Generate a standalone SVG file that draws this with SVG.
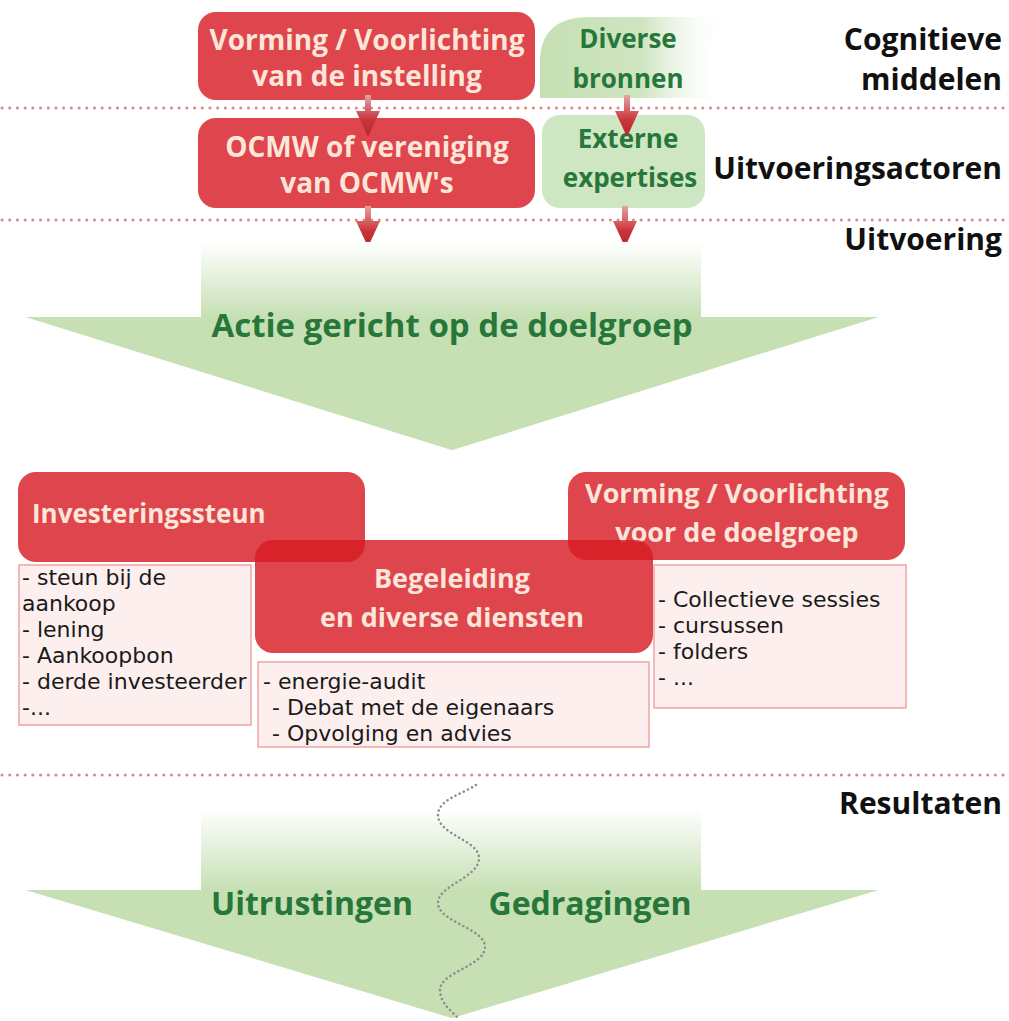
<svg xmlns="http://www.w3.org/2000/svg" width="1009" height="1021" viewBox="0 0 1009 1021">
<defs>
<style>
.red{fill:#d81c24;fill-opacity:0.82}
.redtxt{font-family:"Open Sans","Liberation Sans",sans-serif;font-weight:bold;fill:#fce6da;text-anchor:middle}
.grntxt{font-family:"Open Sans","Liberation Sans",sans-serif;font-weight:bold;fill:#27773a;text-anchor:middle}
.lbl{font-family:"Open Sans","Liberation Sans",sans-serif;font-weight:bold;font-size:30px;fill:#111;text-anchor:end}
.list{fill:#fcefee;stroke:#f0a3a5;stroke-width:1.5}
.ltxt{font-family:"DejaVu Sans","Liberation Sans",sans-serif;font-size:22px;fill:#1a1a1a}
.sep{stroke:#d9888b;stroke-width:3;stroke-dasharray:0.1 7.6;stroke-linecap:round;fill:none}
.arr{fill:url(#arrG)}
</style>
<linearGradient id="arrG" x1="0" y1="0" x2="0" y2="1">
<stop offset="0" stop-color="#e7a3a5"/>
<stop offset="0.6" stop-color="#c9353a"/>
<stop offset="1" stop-color="#c0232a"/>
</linearGradient>
<linearGradient id="shaft1" gradientUnits="userSpaceOnUse" x1="0" y1="242" x2="0" y2="317">
<stop offset="0" stop-color="#ffffff"/>
<stop offset="1" stop-color="#c6e0b4"/>
</linearGradient>
<linearGradient id="shaft2" gradientUnits="userSpaceOnUse" x1="0" y1="808" x2="0" y2="890">
<stop offset="0" stop-color="#ffffff"/>
<stop offset="1" stop-color="#c6e0b4"/>
</linearGradient>
<linearGradient id="srcG" x1="0" y1="0" x2="1" y2="0">
<stop offset="0" stop-color="#c6e0b4"/>
<stop offset="0.55" stop-color="#cfe5c1"/>
<stop offset="1" stop-color="#ffffff" stop-opacity="0"/>
</linearGradient>
</defs>
<rect width="1009" height="1021" fill="#ffffff"/>

<g id="separators">
<line class="sep" x1="2" y1="108" x2="1007" y2="108"/>
<line class="sep" x1="2" y1="220" x2="1007" y2="220"/>
<line class="sep" x1="2" y1="775" x2="1007" y2="775"/>
</g>

<g id="level-labels">
<text class="lbl" x="1002" y="50">Cognitieve</text>
<text class="lbl" x="1002" y="90">middelen</text>
<text class="lbl" x="1002" y="179">Uitvoeringsactoren</text>
<text class="lbl" x="1002" y="250">Uitvoering</text>
<text class="lbl" x="1002" y="814">Resultaten</text>
</g>

<g id="vorming-instelling">
<rect class="red" x="198" y="12" width="337" height="88" rx="18"/>
<text class="redtxt" font-size="28" x="367" y="50">Vorming / Voorlichting</text>
<text class="redtxt" font-size="28" x="367" y="86">van de instelling</text>
</g>

<g id="diverse-bronnen">
<path d="M540,98 L540,62 Q540,17 590,17 L728,17 Q700,50 712,98 Z" fill="url(#srcG)"/>
<text class="grntxt" font-size="26" x="628" y="48">Diverse</text>
<text class="grntxt" font-size="26" x="628" y="88">bronnen</text>
</g>

<g id="ocmw">
<rect class="red" x="198" y="118" width="337" height="90" rx="18"/>
<text class="redtxt" font-size="28" x="367" y="157">OCMW of vereniging</text>
<text class="redtxt" font-size="28" x="367" y="193">van OCMW's</text>
</g>

<g id="externe-expertises">
<rect x="542" y="115" width="163" height="93" rx="18" fill="#cfe6c2"/>
<text class="grntxt" font-size="26" x="628" y="148">Externe</text>
<text class="grntxt" font-size="26" x="630" y="187">expertises</text>
</g>

<g id="connectors">
<path class="arr" d="M365,95 L371,95 L371,111 L380,111 L368,137 L356,111 L365,111 Z"/>
<path class="arr" d="M624,95 L630,95 L630,111 L639,111 L627,137 L615,111 L624,111 Z"/>
<path class="arr" d="M365,206 L371,206 L371,221 L380,221 L368,247 L356,221 L365,221 Z"/>
<path class="arr" d="M622,206 L628,206 L628,221 L637,221 L625,247 L613,221 L622,221 Z"/>
</g>

<g id="actie">
<path d="M201,242 L701,242 L701,317 L878,317 L452,450 L26,317 L201,317 Z" fill="url(#shaft1)"/>
<path d="M26,317 L878,317 L452,450 Z" fill="#c6e0b4"/>
<text class="grntxt" font-size="33" x="452" y="337">Actie gericht op de doelgroep</text>
</g>

<g id="investeringssteun">
<rect class="red" x="18" y="472" width="347" height="90" rx="18"/>
<text class="redtxt" font-size="26" x="32" y="523" style="text-anchor:start">Investeringssteun</text>
<rect class="list" x="19" y="565" width="232" height="160"/>
<text class="ltxt" x="22" y="585">- steun bij de</text>
<text class="ltxt" x="22" y="611">aankoop</text>
<text class="ltxt" x="22" y="637">- lening</text>
<text class="ltxt" x="22" y="663">- Aankoopbon</text>
<text class="ltxt" x="22" y="689">- derde investeerder</text>
<text class="ltxt" x="22" y="715">-...</text>
</g>

<g id="vorming-doelgroep">
<rect class="red" x="568" y="472" width="337" height="88" rx="18"/>
<text class="redtxt" font-size="27" x="737" y="503">Vorming / Voorlichting</text>
<text class="redtxt" font-size="27" x="737" y="542">voor de doelgroep</text>
<rect class="list" x="654" y="565" width="252" height="143"/>
<text class="ltxt" x="658" y="607">- Collectieve sessies</text>
<text class="ltxt" x="658" y="633">- cursussen</text>
<text class="ltxt" x="658" y="659">- folders</text>
<text class="ltxt" x="658" y="685">- ...</text>
</g>

<g id="begeleiding">
<rect class="red" x="255" y="540" width="398" height="113" rx="18"/>
<text class="redtxt" font-size="27" x="452" y="588">Begeleiding</text>
<text class="redtxt" font-size="27" x="452" y="627">en diverse diensten</text>
<rect class="list" x="258" y="662" width="391" height="85"/>
<text class="ltxt" x="263" y="689">- energie-audit</text>
<text class="ltxt" x="272" y="715">- Debat met de eigenaars</text>
<text class="ltxt" x="272" y="741">- Opvolging en advies</text>
</g>

<g id="resultaten">
<path d="M201,808 L701,808 L701,890 L878,890 L452,1018 L26,890 L201,890 Z" fill="url(#shaft2)"/>
<path d="M26,890 L878,890 L452,1018 Z" fill="#c6e0b4"/>
<path d="M476,785 C460,795 438,800 438,815 C438,835 479,840 479,858 C479,878 438,885 438,903 C438,922 485,928 485,947 C485,966 440,972 440,990 C440,1002 450,1010 458,1018" fill="none" stroke="#8c8c8c" stroke-width="2.5" stroke-dasharray="0.1 4.5" stroke-linecap="round"/>
<text class="grntxt" font-size="32" x="312" y="915">Uitrustingen</text>
<text class="grntxt" font-size="32" x="590" y="915">Gedragingen</text>
</g>
</svg>
